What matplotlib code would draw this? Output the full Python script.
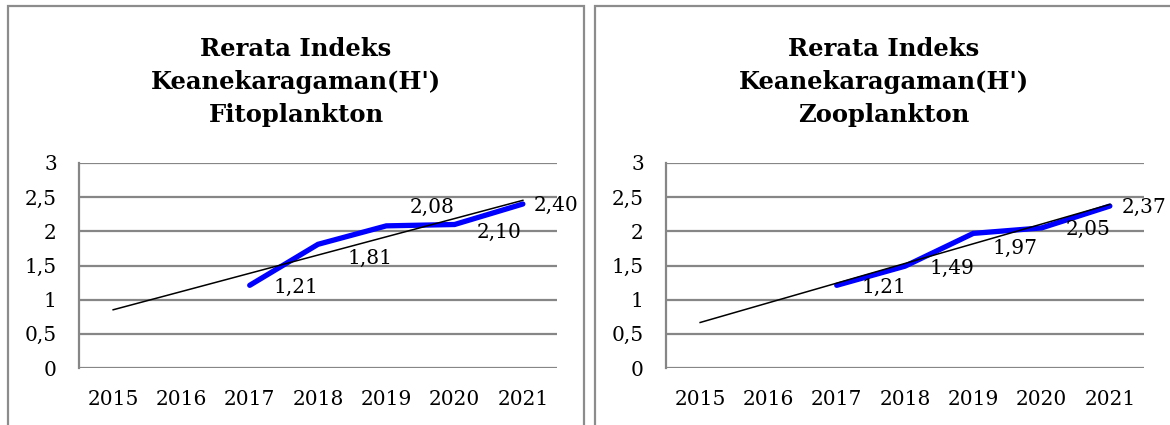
import numpy as np
import matplotlib
matplotlib.use("Agg")
import matplotlib.pyplot as plt
from matplotlib.patches import Rectangle

# data
tahun = ["2015", "2016", "2017", "2018", "2019", "2020", "2021"]
tahun_data = ["2017", "2018", "2019", "2020", "2021"]
fito = [1.21, 1.81, 2.08, 2.10, 2.40]
zoo = [1.21, 1.49, 1.97, 2.05, 2.37]
fito_label = ["1,21", "1,81", "2,08", "2,10", "2,40"]
zoo_label = ["1,21", "1,49", "1,97", "2,05", "2,37"]
yticks = [0, 0.5, 1, 1.5, 2, 2.5, 3]
ytick_label = ["0", "0,5", "1", "1,5", "2", "2,5", "3"]

# label offsets (pixels) - placed by hand like in the original
fito_off = [(24, -2), (29, -14), (23, 18), (22, -8), (11, -1)]
zoo_off = [(25, -2), (25, -2), (19, -15), (24, -1), (12, -1)]

W, H = 1170, 425
plt.rcParams["font.family"] = "DejaVu Serif"

fig = plt.figure(figsize=(W / 100, H / 100), dpi=100)

# panel borders
border = "#8c8c8c"
fig.add_artist(Rectangle((8 / W, -0.1), (584 - 8) / W, 1.1 - 6 / H, fill=False,
                         ec=border, lw=1.6, transform=fig.transFigure))
fig.add_artist(Rectangle((595 / W, -0.1), 0.6, 1.1 - 6 / H, fill=False,
                         ec=border, lw=1.6, transform=fig.transFigure))


def panel(left, values, labels, offsets, title, title_x):
    ax = fig.add_axes([left / W, (H - 368) / H, 478 / W, 205 / H])
    x_all = np.arange(len(tahun))
    x_data = np.array([tahun.index(t) for t in tahun_data])

    # garis tren linier (extend ke belakang sampai 2015)
    coef = np.polyfit(x_data, values, 1)
    ax.plot(x_all, np.polyval(coef, x_all), color="black", lw=1.1, zorder=3)
    ax.plot(x_data, values, color="#0000ff", lw=3.8, solid_capstyle="round",
            solid_joinstyle="miter", zorder=2)

    for xi, v, lab, off in zip(x_data, values, labels, offsets):
        ax.annotate(lab, (xi, v), xytext=off, textcoords="offset pixels",
                    ha="left", va="center", fontsize=14.5, zorder=4)

    ax.set_xlim(-0.5, len(tahun) - 0.5)
    ax.set_ylim(0, 3)
    ax.set_xticks(x_all)
    ax.set_xticklabels(tahun)
    ax.set_yticks(yticks)
    ax.set_yticklabels(ytick_label)
    ax.tick_params(length=0, labelsize=14.5)
    ax.tick_params(axis="y", pad=16)
    ax.tick_params(axis="x", pad=16)
    ax.grid(axis="y", color="#868686", lw=1.6)
    ax.set_axisbelow(True)
    for s in ["top", "right", "bottom"]:
        ax.spines[s].set_visible(False)
    ax.spines["left"].set_color("#868686")
    ax.spines["left"].set_linewidth(1.6)

    fig.text(title_x / W, 1 - 82 / H, title, ha="center", va="center",
             fontsize=17.5, fontweight="bold", linespacing=1.45)
    return ax


panel(79, fito, fito_label, fito_off,
      "Rerata Indeks\nKeanekaragaman(H')\nFitoplankton", 296)
panel(666, zoo, zoo_label, zoo_off,
      "Rerata Indeks\nKeanekaragaman(H')\nZooplankton", 884)

fig.savefig("out.png", dpi=100)
